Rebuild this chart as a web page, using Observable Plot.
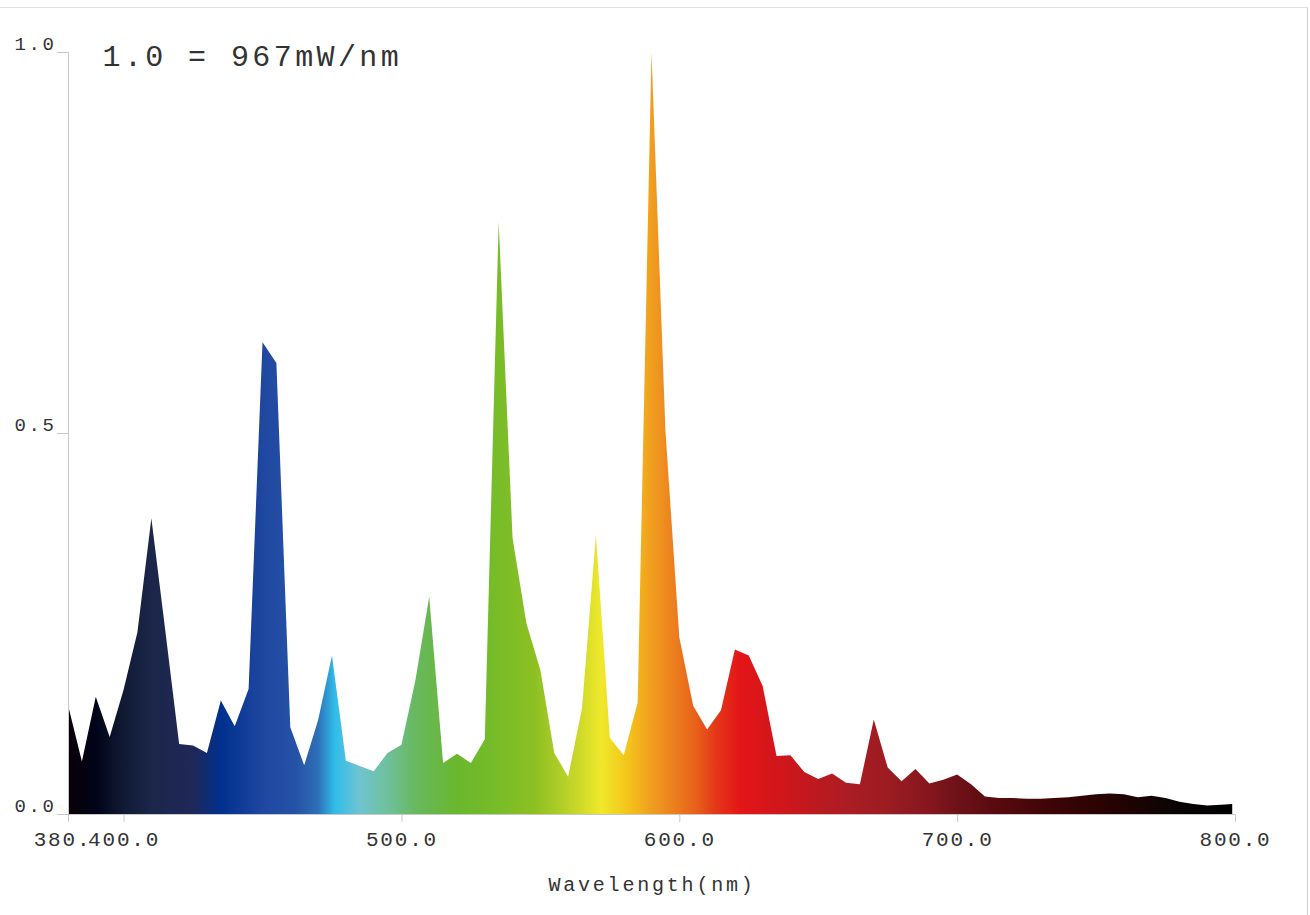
<!DOCTYPE html>
<html><head><meta charset="utf-8">
<script src="https://cdn.jsdelivr.net/npm/d3@7"></script>
<script src="https://cdn.jsdelivr.net/npm/@observablehq/plot@0.6"></script>
<style>
body{margin:0;background:#fff;}
#wrap{position:relative;width:1310px;height:915px;overflow:hidden;}
#border{position:absolute;left:-2px;top:7px;width:1310px;height:930px;border-top:1px solid #e0e0e0;border-right:1px solid #cfcfcf;box-sizing:border-box;pointer-events:none;}
#chart{position:absolute;left:0;top:0;}
</style></head><body><div id="wrap"><div id="chart"></div><div id="border"></div></div>
<script>
// Spectral power distribution (relative, 1.0 = 967 mW/nm)
const wavelengths = [380,385,390,395,400,405,410,415,420,425,430,435,440,445,450,455,460,465,470,475,480,485,490,495,500,505,510,515,520,525,530,535,540,545,550,555,560,565,570,575,580,585,590,595,600,605,610,615,620,625,630,635,640,645,650,655,660,665,670,675,680,685,690,695,700,705,710,715,720,725,730,735,740,745,750,755,760,765,770,775,780,785,790,795,799];
const power = [0.143,0.069,0.154,0.101,0.163,0.239,0.388,0.241,0.092,0.090,0.080,0.149,0.115,0.164,0.619,0.592,0.114,0.064,0.123,0.208,0.070,0.063,0.056,0.080,0.091,0.175,0.285,0.067,0.079,0.067,0.098,0.777,0.362,0.250,0.189,0.080,0.049,0.139,0.366,0.100,0.077,0.146,1.000,0.504,0.232,0.142,0.111,0.136,0.216,0.208,0.168,0.076,0.077,0.055,0.046,0.053,0.041,0.039,0.124,0.061,0.043,0.059,0.040,0.045,0.052,0.039,0.023,0.021,0.021,0.020,0.020,0.021,0.022,0.024,0.026,0.027,0.026,0.022,0.024,0.021,0.016,0.013,0.011,0.012,0.013];

// colour of light along the wavelength axis
const stopWavelengths = [380,390,400,410,425,435,450,462,470,476,485,495,505,520,535,548,558,572,582,590,598,606,613,622,632,645,660,675,690,700,715,735,755,775,792,800];
const stopColors = ["#0a0008","#000418","#111a34","#1b2649","#1f2858","#00308e","#1f47a0","#2552a6","#2f6fb8","#30bde9","#6fc4d0","#6fc09c","#68b860","#6ab72e","#78bc28","#8dc022","#b3ce28","#f0e82a","#f4c21a","#f09e20","#ec7f1e","#e8601a","#e43818","#e31518","#d6161a","#c3181e","#ac1c24","#9c1c22","#86161e","#6e1218","#570a0e","#3c0406","#270202","#0e0404","#020000","#000000"];

const xTicks = [380,400,500,600,700,800];
const yTicks = [0,0.5,1.0];
const annotation = "1.0 = 967mW/nm";
const xLabel = "Wavelength(nm)";

const data = wavelengths.map((w,i)=>({w, v: power[i]}));

function gradientDefs(index, scales) {
  const x = scales.x;
  const defs = d3.create("svg:defs");
  const lg = defs.append("linearGradient")
    .attr("id","spectrum")
    .attr("gradientUnits","userSpaceOnUse")
    .attr("x1", x(380)).attr("x2", x(800)).attr("y1",0).attr("y2",0);
  stopWavelengths.forEach((w,i)=>{
    lg.append("stop").attr("offset", (w-380)/(800-380)).attr("stop-color", stopColors[i]);
  });
  return defs.node();
}

const fmt = d => d.toFixed(1);
const ink = "#333";

const plot = Plot.plot({
  width: 1310, height: 915,
  marginLeft: 68, marginRight: 75, marginTop: 52, marginBottom: 101,
  style: {fontFamily: "'Liberation Mono', monospace", background: "transparent", overflow: "visible", color: ink},
  x: {domain: [380, 800], label: null},
  y: {domain: [0, 1], label: null},
  marks: [
    gradientDefs,
    Plot.areaY(data, {x: "w", y: "v", fill: "url(#spectrum)"}),
    Plot.ruleX([380], {stroke: "#c8c8c8"}),
    Plot.ruleY([0], {stroke: "#c8c8c8"}),
    Plot.axisY(yTicks, {tickSize: 11, tickFormat: () => "", stroke: "#c8c8c8", label: null}),
    Plot.axisY(yTicks, {tickSize: 0, tickPadding: 12, dy: -9, tickFormat: fmt, fontSize: 19, fill: ink, label: null}),
    Plot.axisX(xTicks, {tickSize: 8, tickFormat: () => "", stroke: "#c8c8c8", label: null}),
    Plot.axisX(xTicks.slice(1), {tickSize: 0, tickPadding: 17, tickFormat: fmt, fontSize: 21, fill: ink, label: null}),
    Plot.axisX([380], {tickSize: 0, tickPadding: 17, dx: -6, tickFormat: d => d + ".", fontSize: 21, fill: ink, label: null}),
    Plot.text([annotation], {frameAnchor: "top-left", textAnchor: "start", lineAnchor: "middle", dx: 34, dy: 4, fontSize: 30, fill: ink}),
    Plot.text([xLabel], {frameAnchor: "bottom", lineAnchor: "middle", dy: 70, fontSize: 20, fill: ink})
  ]
});
document.getElementById("chart").appendChild(plot);

// letter spacing by font size
d3.select(plot).selectAll("g[font-size]").each(function(){
  const fs = +this.getAttribute("font-size");
  const ls = fs >= 28 ? 3.4 : fs == 21 ? 1.8 : fs == 20 ? 2.8 : fs == 19 ? 2.6 : 0;
  d3.select(this).selectAll("text").style("letter-spacing", ls + "px");
});
</script></body></html>
